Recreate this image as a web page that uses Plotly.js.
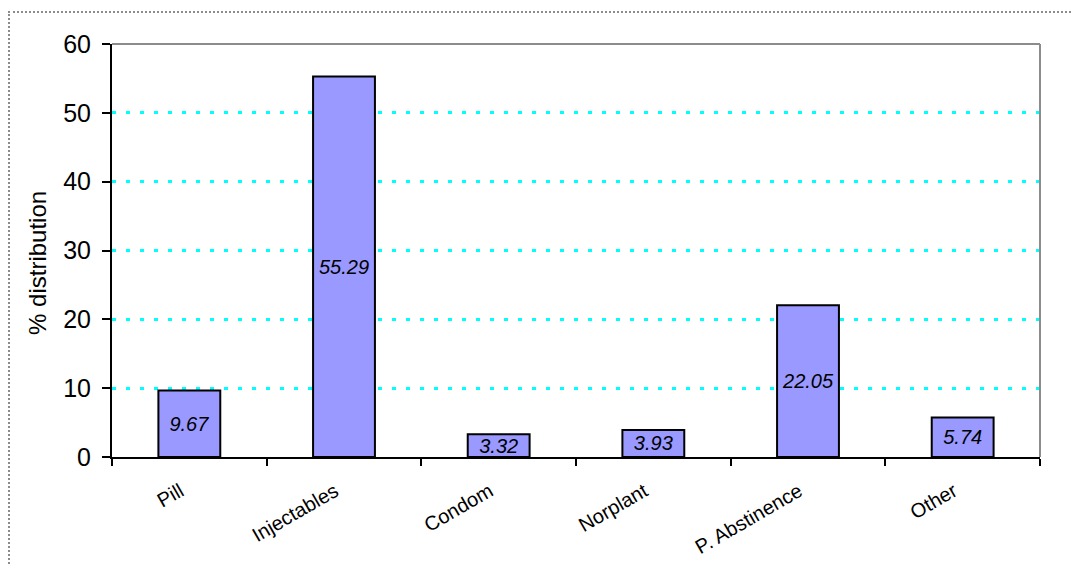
<!DOCTYPE html>
<html>
<head>
<meta charset="utf-8">
<script src="https://cdn.plot.ly/plotly-3.0.1.min.js"></script>
<style>
  html, body { margin: 0; padding: 0; background: #ffffff; }
  #wrap { position: relative; width: 1073px; height: 566px; overflow: hidden; }
  #chart { position: absolute; left: 0; top: 0; width: 1073px; height: 566px; }
  #frame { position: absolute; left: 8px; top: 11px; right: -10px; bottom: -10px;
           border-top: 2px dotted #8c8c8c; border-left: 2px dotted #8c8c8c; pointer-events: none; }
</style>
</head>
<body>
<div id="wrap">
  <div id="chart"></div>
  <div id="frame"></div>
</div>
<script>
// Contraceptive method mix, % distribution
const methods = ["Pill", "Injectables", "Condom", "Norplant", "P. Abstinence", "Other"];
const shares = [9.67, 55.29, 3.32, 3.93, 22.05, 5.74];
const yTicks = [0, 10, 20, 30, 40, 50, 60];

const FONT = "Arial, 'Liberation Sans', sans-serif";

const trace = {
  type: "bar",
  x: methods,
  y: shares,
  marker: { color: "#9999FF", line: { color: "#000000", width: 2 } },
  texttemplate: "%{y:.2f}",
  textposition: "inside",
  insidetextanchor: "middle",
  textangle: 0,
  constraintext: "none",
  textfont: { family: FONT, size: 20, color: "#000000", style: "italic" },
  hoverinfo: "skip"
};

const layout = {
  width: 1073,
  height: 566,
  margin: { l: 112, r: 33, t: 44, b: 109 },
  paper_bgcolor: "rgba(0,0,0,0)",
  plot_bgcolor: "#ffffff",
  font: { family: FONT, color: "#000000" },
  showlegend: false,
  bargap: 0.6,
  xaxis: {
    type: "category",
    tickson: "boundaries",
    ticks: "outside",
    ticklen: 7,
    tickwidth: 2,
    tickcolor: "#000000",
    tickangle: -30,
    ticklabelstandoff: 13,
    ticklabelshift: -9,
    tickfont: { family: FONT, size: 20, color: "#000000" },
    showline: true,
    linecolor: "#000000",
    linewidth: 2,
    showgrid: false,
    zeroline: false,
    fixedrange: true
  },
  yaxis: {
    range: [0, 60],
    tickvals: yTicks,
    ticktext: yTicks.map(String),
    ticks: "outside",
    ticklen: 8,
    tickwidth: 2,
    tickcolor: "#000000",
    ticklabelstandoff: 6,
    tickfont: { family: FONT, size: 25, color: "#000000" },
    showline: true,
    linecolor: "#000000",
    linewidth: 2,
    showgrid: true,
    gridcolor: "#00FFFF",
    gridwidth: 3,
    griddash: "4px,10px",
    zeroline: false,
    fixedrange: true
  },
  shapes: [
    // grey plot-area frame on the top and right sides
    { type: "line", xref: "paper", yref: "paper", x0: 0, x1: 1, y0: 1, y1: 1,
      line: { color: "#8c8c8c", width: 2 }, layer: "above" },
    { type: "line", xref: "paper", yref: "paper", x0: 1, x1: 1, y0: 0, y1: 1,
      line: { color: "#8c8c8c", width: 2 }, layer: "above" }
  ],
  annotations: [
    { text: "% distribution", textangle: -90, showarrow: false,
      xref: "paper", yref: "paper", x: -0.0797, y: 0.47,
      xanchor: "center", yanchor: "middle",
      font: { family: FONT, size: 24, color: "#000000" } }
  ]
};

Plotly.newPlot("chart", [trace], layout, { displayModeBar: false, staticPlot: true });
</script>
</body>
</html>
